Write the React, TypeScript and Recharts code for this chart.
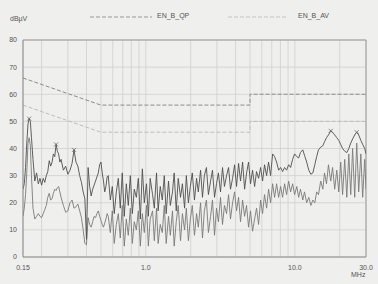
import { ComposedChart, Line, Scatter, XAxis, YAxis, CartesianGrid, Legend, ReferenceLine } from "recharts";

// measurement sweep, MHz
const FREQS = [
  0.150, 0.153, 0.156, 0.159, 0.162, 0.165, 0.168, 0.171, 0.175, 0.180,
  0.185, 0.190, 0.195, 0.200, 0.205, 0.210, 0.215, 0.220, 0.225, 0.230,
  0.235, 0.240, 0.245, 0.250, 0.255, 0.260, 0.265, 0.270, 0.280, 0.290,
  0.300, 0.310, 0.320, 0.330, 0.340, 0.350, 0.360, 0.370, 0.380, 0.390,
  0.400, 0.410, 0.420, 0.430, 0.440, 0.450, 0.460, 0.470, 0.480, 0.490,
  0.500, 0.510, 0.520, 0.530, 0.540, 0.550,
  0.560, 0.578, 0.596, 0.614, 0.634, 0.654, 0.674, 0.695, 0.717, 0.740,
  0.763, 0.787, 0.812, 0.837, 0.864, 0.891, 0.919, 0.948, 0.977, 1.01,
  1.04, 1.07, 1.11, 1.14, 1.18, 1.21, 1.25, 1.29, 1.33, 1.37,
  1.42, 1.46, 1.51, 1.55, 1.60, 1.65, 1.71, 1.76, 1.82, 1.87,
  1.93, 1.99, 2.05, 2.12, 2.19, 2.25, 2.33, 2.40, 2.47, 2.55,
  2.63, 2.72, 2.80, 2.89, 2.98, 3.07, 3.17, 3.27, 3.37, 3.48,
  3.59, 3.70, 3.82, 3.94, 4.06, 4.19, 4.32, 4.46, 4.60, 4.74,
  4.89, 5.04, 5.20, 5.37, 5.53, 5.71, 5.89, 6.07, 6.26, 6.46,
  6.66, 6.87, 7.09, 7.31, 7.54, 7.78, 8.02, 8.27, 8.53, 8.80,
  9.08, 9.36, 9.66, 9.96, 10.3, 10.6, 10.9, 11.3, 11.6, 12.0,
  12.4, 12.8, 13.2, 13.6, 14.0, 14.4, 14.9, 15.4, 15.8, 16.3,
  16.8, 17.4, 17.9, 18.5, 19.1, 19.7, 20.3, 20.9, 21.6, 22.3,
  23.0, 23.7, 24.4, 25.2, 26.0, 26.8, 27.7, 28.5, 29.4, 30.0,
];

// upper trace (peak), dBuV
const PEAK = [
  25, 27, 33, 42, 49, 51, 50, 44, 36, 28,
  31, 27, 29, 26.5, 29, 27.5, 30, 31.5, 35.5, 33.5,
  35, 38, 37, 41.5, 39, 38, 35, 36, 32, 33.5,
  30.5, 32, 34.5, 39.5, 35, 33.5, 30, 27.5, 24, 21.5,
  6.5, 33, 26, 22.5, 25, 26.5, 28, 29.5, 31, 34,
  35, 31, 28, 24, 26, 29.5,
  30, 21, 26, 16, 24, 29, 18, 31, 15, 27,
  19, 30, 16, 25, 22, 29, 14, 32.5, 20, 27,
  15, 29, 23, 18, 31, 17, 26, 21, 30, 16,
  28, 19, 24, 31, 17, 29, 22, 27, 18, 30,
  20, 26, 31, 21, 29, 24, 32, 22, 30, 33,
  23, 28, 32, 22, 27, 31, 24, 33, 26, 30,
  33, 25, 29, 34, 26, 34.5, 28, 35, 25, 31,
  35, 27, 32, 26, 31.5, 29, 33, 28, 34, 30,
  35, 30, 38, 37, 35, 32, 33, 31.5, 33, 32,
  34, 33, 36, 38, 37, 36.5, 38.5, 39.5, 37.5, 35,
  32, 30.5, 31, 34, 37, 39.5, 40.5, 41, 42.5, 44,
  45, 46.5, 46, 45, 44, 43, 41.5, 40, 39, 38.5,
  40, 42, 43.5, 45, 46, 45, 43, 41.5, 40, 38,
];

// lower trace (average), dBuV
const AVG = [
  15, 18, 23, 31, 42, 44, 41, 30, 18, 14,
  15, 16, 15, 14.5, 16, 17.5, 19, 22, 23.5, 21,
  21.5, 23.5, 25, 24.5, 25.5, 26, 24, 22, 19, 16.5,
  17, 20, 21, 18, 18.5, 19.5, 17, 14.5, 10, 5,
  4.5, 14.5, 12, 11, 13, 15, 14.5, 16, 17, 15,
  13.5, 12, 11, 12.5, 14, 16,
  15, 9, 17, 5, 12, 16, 7, 19, 4, 14,
  8, 18, 5, 13, 10, 17, 4, 16, 9, 19,
  4, 14, 17, 6, 18, 5, 12, 9, 19, 5,
  15, 8, 17, 4, 13, 19, 6, 16, 10, 18,
  6, 14, 19, 8, 16, 11, 20, 7, 17, 21,
  9, 15, 21, 8, 18, 13, 22, 12, 19, 16,
  23, 14, 20, 24, 17, 22, 13, 21, 15, 19,
  11, 17, 9.5, 14, 18, 12, 21, 16, 23, 18,
  25, 20, 27, 22, 27, 22, 26, 22, 27, 23,
  28, 24, 27, 23, 26, 22, 25, 21, 24, 20,
  22, 19, 21, 20, 24, 23, 28, 25, 31, 27,
  34, 28, 33, 25, 32, 24, 35, 23, 36, 22,
  38, 23, 40, 22, 42, 24, 38, 22, 36, 25,
];

// EN 55022 class B limits
const LIMIT_FREQS = [0.15, 0.5, 5, 5, 30];
const QP_LIMIT = [66, 56, 56, 60, 60];
const AV_LIMIT = [56, 46, 46, 50, 50];

// peak markers
const MARK_FREQS = [0.165, 0.25, 0.33, 17.4, 26.0];
const MARK_VALUES = [51, 41.5, 39.5, 46.5, 46];

const X_TICKS = [0.15, 0.2, 0.3, 0.4, 0.5, 0.6, 0.7, 0.8, 0.9, 1, 2, 3, 4, 5, 6, 7, 8, 9, 10, 20, 30];
const X_LABELS: Record<string, string> = { "0.15": "0.15", "1": "1.0", "10": "10.0", "30": "30.0" };
const Y_TICKS = [0, 10, 20, 30, 40, 50, 60, 70, 80];

const rows = FREQS.map((f, i) => ({ f, pk: PEAK[i], av: AVG[i] }));
const qpRows = LIMIT_FREQS.map((f, i) => ({ f, qp: QP_LIMIT[i] }));
const avRows = LIMIT_FREQS.map((f, i) => ({ f, avl: AV_LIMIT[i] }));
const markRows = MARK_FREQS.map((f, i) => ({ f, m: MARK_VALUES[i] }));

const FONT = "'Liberation Sans', Arial, sans-serif";

function XMark(props: any) {
  const { cx, cy } = props;
  if (cx == null || cy == null) return null;
  return (
    <g stroke="#666" strokeWidth={0.8}>
      <line x1={cx - 2} y1={cy - 2} x2={cx + 2} y2={cy + 2} />
      <line x1={cx - 2} y1={cy + 2} x2={cx + 2} y2={cy - 2} />
    </g>
  );
}

function LimitLegend() {
  return (
    <div style={{ position: "relative", width: 378, height: 12, fontFamily: FONT, fontSize: 7, color: "#555" }}>
      <svg width={378} height={12} style={{ position: "absolute", left: 0, top: 0 }}>
        <line x1={90} y1={6} x2={152} y2={6} stroke="#999" strokeDasharray="4 2" />
        <line x1={228} y1={6} x2={288} y2={6} stroke="#c4c4c4" strokeDasharray="4 2" />
      </svg>
      <span style={{ position: "absolute", left: 157, top: 1 }}>EN_B_QP</span>
      <span style={{ position: "absolute", left: 298, top: 1 }}>EN_B_AV</span>
    </div>
  );
}

export default function App() {
  return (
    <div style={{ position: "fixed", left: 0, top: 0, width: 378, height: 284, background: "#efefed", fontFamily: FONT }}>
      <ComposedChart width={378} height={284} data={rows} margin={{ top: 28, right: 12, bottom: 0, left: 0 }}>
        <CartesianGrid stroke="#cfcfcd" strokeWidth={0.8} />
        <XAxis
          dataKey="f"
          type="number"
          scale="log"
          domain={[0.15, 30]}
          ticks={X_TICKS}
          interval={0}
          allowDataOverflow
          height={27}
          tickLine={false}
          tickSize={6}
          tickMargin={2}
          axisLine={{ stroke: "#8a8a8a" }}
          tick={{ fontSize: 7, fill: "#555", fontFamily: FONT }}
          tickFormatter={(v: number) => X_LABELS[String(v)] ?? ""}
        />
        <YAxis
          type="number"
          domain={[0, 80]}
          ticks={Y_TICKS}
          interval={0}
          width={23}
          tickLine={false}
          tickSize={4}
          tickMargin={2}
          axisLine={{ stroke: "#8a8a8a" }}
          tick={{ fontSize: 7, fill: "#555", fontFamily: FONT }}
        />
        <ReferenceLine y={80} stroke="#9a9a9a" />
        <ReferenceLine x={30} stroke="#9a9a9a" />
        <Legend verticalAlign="top" wrapperStyle={{ top: 11, left: 0 }} content={() => <LimitLegend />} />
        <Line data={avRows} dataKey="avl" type="linear" stroke="#bdbdbd" strokeWidth={1} strokeDasharray="4 2" dot={false} isAnimationActive={false} />
        <Line data={qpRows} dataKey="qp" type="linear" stroke="#8c8c8c" strokeWidth={1} strokeDasharray="4 2" dot={false} isAnimationActive={false} />
        <Line dataKey="av" type="linear" stroke="#7a7a7a" strokeWidth={0.9} dot={false} isAnimationActive={false} />
        <Line dataKey="pk" type="linear" stroke="#4f4f4f" strokeWidth={0.9} dot={false} isAnimationActive={false} />
        <Scatter data={markRows} dataKey="m" shape={XMark} isAnimationActive={false} />
      </ComposedChart>
      <div style={{ position: "absolute", left: 10, top: 15, fontSize: 7, color: "#555" }}>dBµV</div>
      <div style={{ position: "absolute", left: 351, top: 271, fontSize: 7, color: "#555" }}>MHz</div>
    </div>
  );
}
